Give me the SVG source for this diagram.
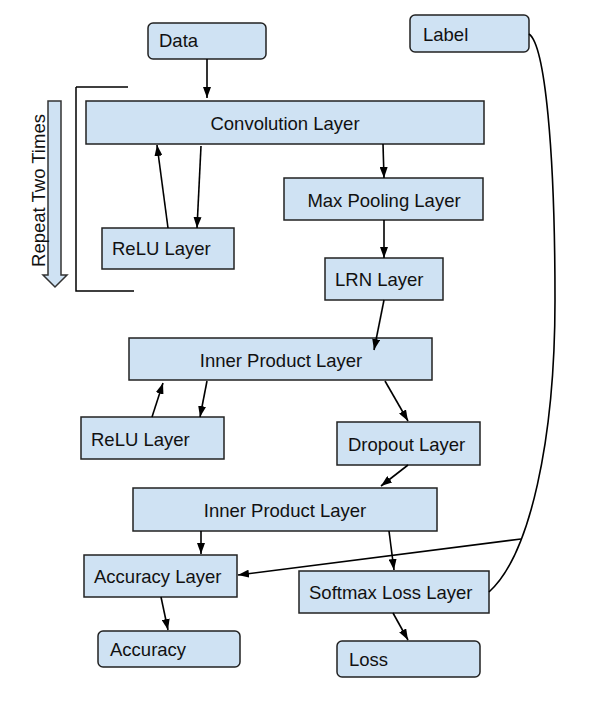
<svg xmlns="http://www.w3.org/2000/svg" width="590" height="705" viewBox="0 0 590 705">
<style>
.box{fill:#cfe2f3;stroke:#222;stroke-width:1.5}
.t{font-family:"Liberation Sans",Arial,sans-serif;font-size:18.5px;fill:#111}
.c{text-anchor:middle}
.e{fill:none;stroke:#000;stroke-width:1.6}
</style>
<defs>
<marker id="ah" viewBox="0 0 11 8" refX="11" refY="4" markerWidth="11" markerHeight="8" markerUnits="userSpaceOnUse" orient="auto">
<path d="M0,0 L11,4 L0,8 Z" fill="#000"/>
</marker>
</defs>
<rect width="590" height="705" fill="#fff"/>
<g id="repeat">
<path d="M76,87 H128 M76,87 V291 H134" fill="none" stroke="#000" stroke-width="1.5"/>
<path d="M48,101 H61 V275 H67 L55,287 L43,275 H48 Z" fill="#cfe2f3" stroke="#333" stroke-width="1.5"/>
<text class="t c" transform="translate(45,190.5) rotate(-90)">Repeat Two Times</text>
</g>
<g id="data"><rect class="box" x="148" y="23" width="118" height="36" rx="5"/><text class="t" x="159" y="47">Data</text></g>
<g id="label"><rect class="box" x="410" y="15" width="119" height="37" rx="5"/><text class="t" x="423" y="40.5">Label</text></g>
<g id="conv"><rect class="box" x="86" y="101" width="398" height="43"/><text class="t c" x="285" y="129.5">Convolution Layer</text></g>
<g id="relu1"><rect class="box" x="102" y="228" width="132" height="41"/><text class="t" x="112" y="255">ReLU Layer</text></g>
<g id="maxpool"><rect class="box" x="284" y="178" width="199" height="42"/><text class="t c" x="384" y="206.7">Max Pooling Layer</text></g>
<g id="lrn"><rect class="box" x="325" y="258" width="118" height="42"/><text class="t" x="335" y="286">LRN Layer</text></g>
<g id="ip1"><rect class="box" x="129" y="338" width="303" height="42"/><text class="t c" x="281" y="366.7">Inner Product Layer</text></g>
<g id="relu2"><rect class="box" x="81" y="417" width="143" height="42"/><text class="t" x="91" y="445.7">ReLU Layer</text></g>
<g id="dropout"><rect class="box" x="337" y="422" width="143" height="43"/><text class="t" x="348" y="450.7">Dropout Layer</text></g>
<g id="ip2"><rect class="box" x="133" y="488" width="304" height="43"/><text class="t c" x="285" y="516.7">Inner Product Layer</text></g>
<g id="acclayer"><rect class="box" x="84" y="555" width="153" height="42"/><text class="t" x="94" y="583.3">Accuracy Layer</text></g>
<g id="softmax"><rect class="box" x="299" y="571" width="190" height="42"/><text class="t" x="309" y="599">Softmax Loss Layer</text></g>
<g id="accuracy"><rect class="box" x="98" y="631" width="142" height="36" rx="5"/><text class="t" x="110" y="656">Accuracy</text></g>
<g id="loss"><rect class="box" x="337" y="641" width="143" height="36" rx="5"/><text class="t" x="349" y="665.7">Loss</text></g>
<g id="connectors">
<path class="e" d="M207,59 V98" marker-end="url(#ah)"/>
<path class="e" d="M168,228 L157,145" marker-end="url(#ah)"/>
<path class="e" d="M201,146 L197,228" marker-end="url(#ah)"/>
<path class="e" d="M383,144 L384,178" marker-end="url(#ah)"/>
<path class="e" d="M384,220 V258" marker-end="url(#ah)"/>
<path class="e" d="M384,300 L374,350" marker-end="url(#ah)"/>
<path class="e" d="M152,417 L163,383" marker-end="url(#ah)"/>
<path class="e" d="M207,381 L200,417" marker-end="url(#ah)"/>
<path class="e" d="M385,381 L408,421" marker-end="url(#ah)"/>
<path class="e" d="M408,465 L381,486" marker-end="url(#ah)"/>
<path class="e" d="M201,531 V554" marker-end="url(#ah)"/>
<path class="e" d="M389,531 L394,570" marker-end="url(#ah)"/>
<path class="e" d="M161,597 L168,630" marker-end="url(#ah)"/>
<path class="e" d="M393,613 L408,640" marker-end="url(#ah)"/>
<path class="e" d="M529,34 C545,45 555,150 555,300 C555,440 530,555 489,592"/>
<path class="e" d="M521,539 L238,575" marker-end="url(#ah)"/>
</g>
</svg>
